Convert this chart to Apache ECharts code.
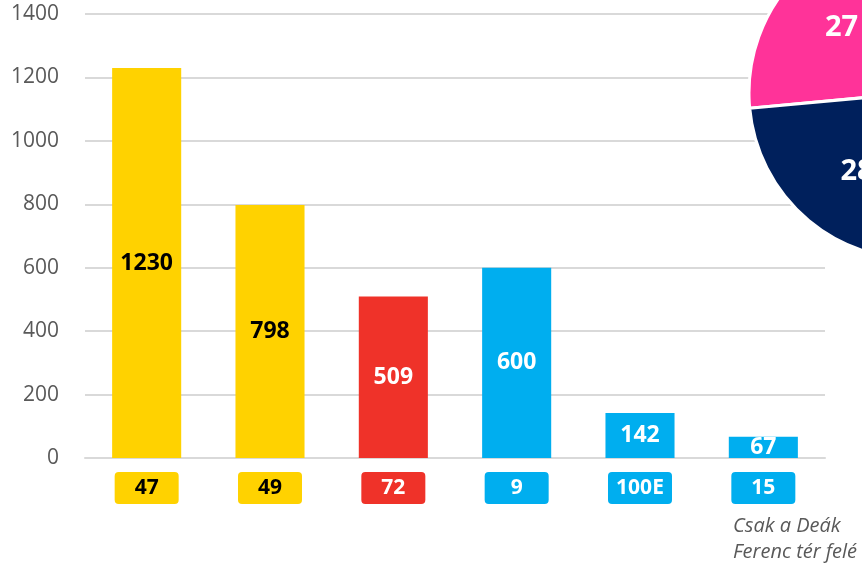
<!DOCTYPE html>
<html>
<head>
<meta charset="utf-8">
<script src="https://cdn.jsdelivr.net/npm/echarts@6/dist/echarts.min.js"></script>
<style>
  html, body { margin: 0; padding: 0; background: #fff; }
  #chart { width: 862px; height: 567px; }
</style>
</head>
<body>
<div id="chart"></div>
<script>
// line numbers (x axis badges) and passengers per line
const lines = ['47', '49', '72', '9', '100E', '15']
const riders = [1230, 798, 509, 600, 142, 67]
const lineColors = ['#FFD200', '#FFD200', '#EF3229', '#00AEEF', '#00AEEF', '#00AEEF']
const textColors = ['#000000', '#000000', '#ffffff', '#ffffff', '#ffffff', '#ffffff']

// pie in the top right corner (only partly on screen, last two slices are off canvas)
const pieNames = ['a', 'b', 'c', 'd']
const pieValues = [27, 28, 26, 23]
const pieColors = ['#FF3399', '#00205C', '#7F7F7F', '#BFBFBF']

const note = 'Csak a Deák\nFerenc tér felé'

const font = '"Open Sans", "Noto Sans", sans-serif'
const myChart = echarts.init(document.getElementById('chart'))

const rich = {}
lines.forEach((l, i) => {
  rich['c' + i] = {
    backgroundColor: lineColors[i],
    color: textColors[i],
    borderRadius: 4,
    width: 64,
    height: 32,
    lineHeight: 32,
    align: 'center',
    fontSize: 21,
    fontWeight: 'bold',
    fontFamily: font
  }
})

const option = {
  animation: false,
  grid: { left: 85, right: 37, top: 14, bottom: 109 },
  xAxis: {
    type: 'category',
    data: lines,
    axisLine: { lineStyle: { color: '#D9D9D9', width: 2 } },
    axisTick: { show: false },
    axisLabel: {
      margin: 14,
      formatter: (val, idx) => `{c${idx}|${val}}`,
      rich
    }
  },
  yAxis: {
    type: 'value',
    min: 0,
    max: 1400,
    interval: 200,
    axisLine: { show: false },
    axisTick: { show: false },
    splitLine: { lineStyle: { color: '#D9D9D9', width: 2 } },
    axisLabel: {
      color: '#595959',
      fontSize: 21,
      fontFamily: font,
      margin: 26,
      formatter: v => String(v)
    }
  },
  series: [
    {
      type: 'bar',
      barWidth: '56%',
      data: riders.map((v, i) => ({
        value: v,
        itemStyle: { color: lineColors[i] },
        label: { color: textColors[i] }
      })),
      label: {
        show: true,
        position: 'inside',
        fontSize: 23,
        fontWeight: 'bold',
        fontFamily: font
      }
    },
    {
      type: 'pie',
      center: [915, 93],
      radius: [24, 166],
      clockwise: false,
      startAngle: 91.8,
      itemStyle: { borderColor: '#fff', borderWidth: 3 },
      label: {
        show: true,
        position: 'inside',
        color: '#fff',
        fontSize: 29,
        fontWeight: 'bold',
        fontFamily: font,
        formatter: '{c}'
      },
      labelLine: { show: false },
      data: pieValues.map((v, i) => ({
        name: pieNames[i],
        value: v,
        itemStyle: { color: pieColors[i] }
      }))
    }
  ],
  graphic: [
    {
      type: 'text',
      left: 733,
      top: 513,
      style: {
        text: note,
        fill: '#595959',
        font: 'italic 20px ' + font,
        lineHeight: 26
      }
    }
  ]
}

myChart.setOption(option)
</script>
</body>
</html>
